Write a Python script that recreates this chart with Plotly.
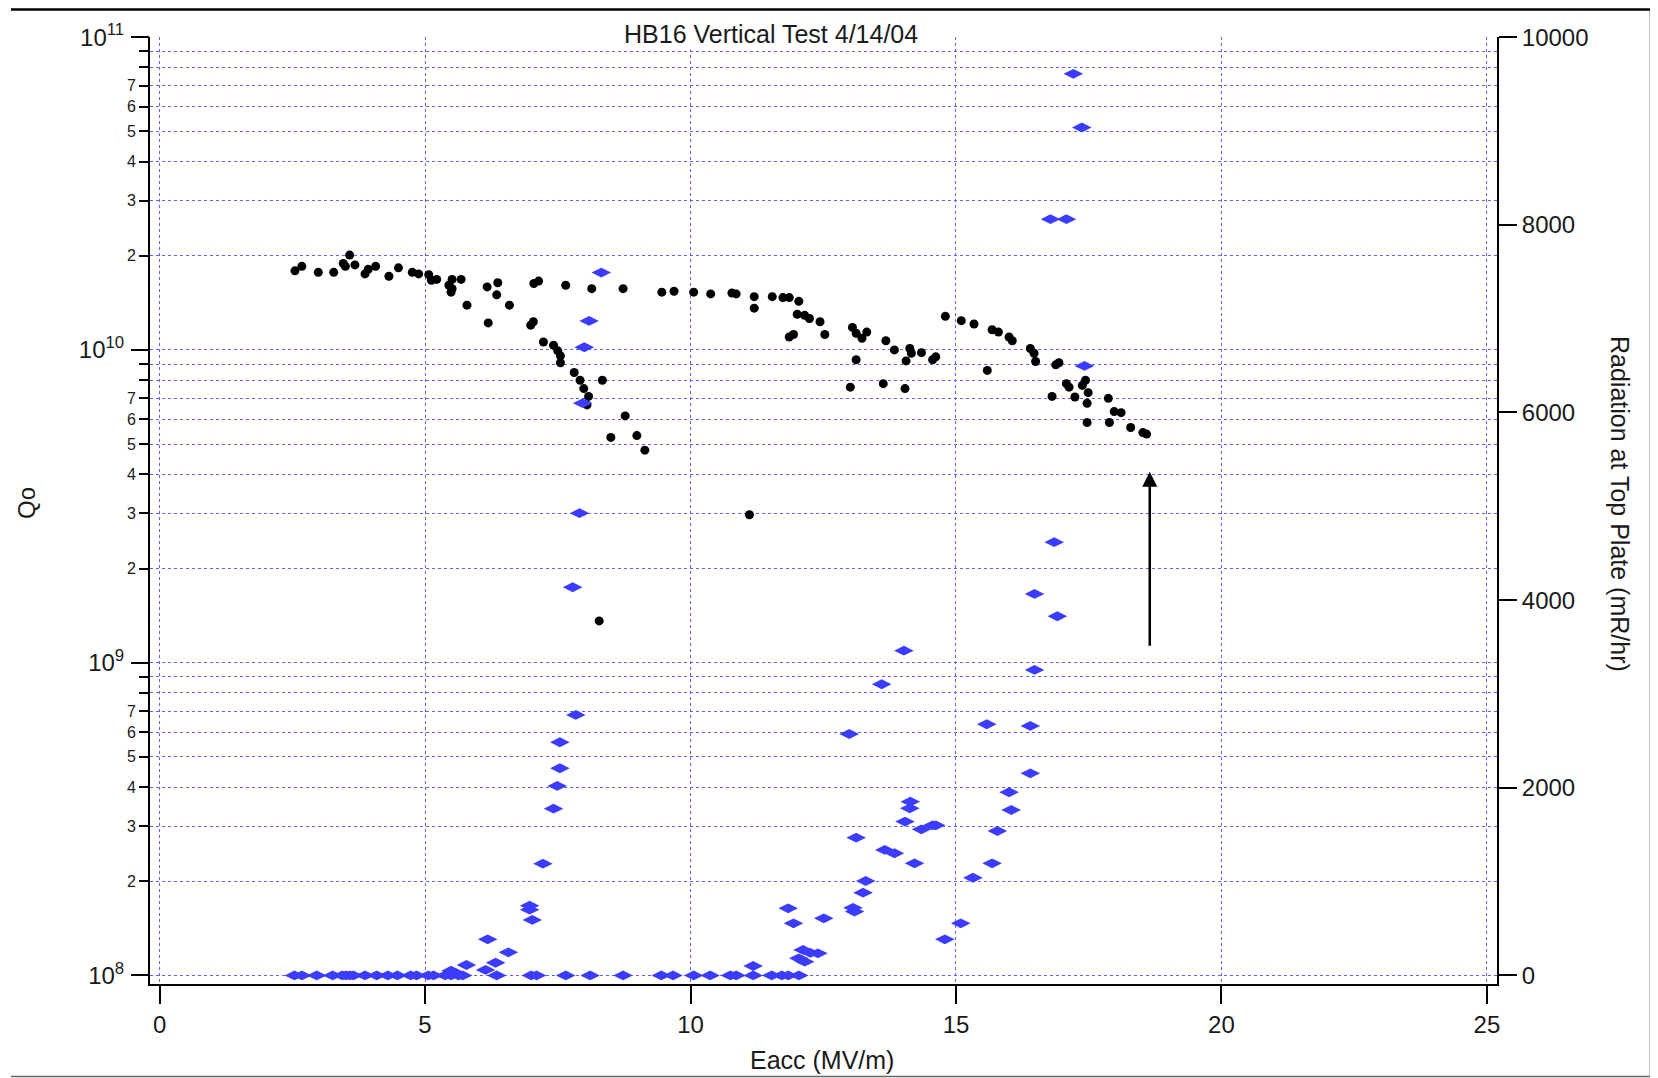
import math
import plotly.graph_objects as go

# ---------------- data ----------------
# Qo vs Eacc (black dots, left log axis)
eacc_q = [2.55, 2.68, 2.99, 3.28, 3.46, 3.50, 3.58, 3.68, 3.87, 3.93, 4.07, 4.32, 4.50, 4.76, 4.88,
          5.07, 5.12, 5.22, 5.45, 5.51, 5.49, 5.51, 5.68, 5.79, 6.17, 6.37, 6.35, 6.59, 6.19, 6.99,
          7.04, 7.05, 7.14, 7.65, 8.14, 8.73, 9.46, 9.69, 10.06, 10.38, 10.78, 10.86, 11.20, 11.20,
          11.54, 11.74, 11.86, 12.04, 12.01, 12.15, 12.24, 12.44, 12.53, 11.86, 11.94, 7.23, 7.42,
          7.50, 7.55, 7.55, 7.81, 7.92, 7.99, 8.08, 8.05, 8.34, 8.77, 8.50, 8.99, 9.14, 11.11, 8.28,
          13.05, 13.12, 13.23, 13.32, 13.68, 13.84, 14.13, 14.16, 14.35, 14.06, 14.56, 14.62, 13.12,
          13.01, 13.63, 14.04, 14.80, 15.10, 15.34, 15.68, 15.80, 16.00, 16.06, 15.59, 16.40, 16.47,
          16.50, 16.88, 16.94, 17.08, 17.13, 17.38, 17.44, 16.81, 17.24, 17.47, 17.49, 17.47, 17.87,
          17.89, 17.98, 18.11, 18.29, 18.52, 18.59]
qo = [1.79e10, 1.85e10, 1.77e10, 1.77e10, 1.89e10, 1.85e10, 2.01e10, 1.87e10, 1.75e10, 1.81e10,
      1.85e10, 1.72e10, 1.83e10, 1.77e10, 1.75e10, 1.74e10, 1.67e10, 1.68e10, 1.61e10, 1.68e10,
      1.53e10, 1.57e10, 1.68e10, 1.39e10, 1.59e10, 1.64e10, 1.50e10, 1.39e10, 1.22e10, 1.20e10,
      1.23e10, 1.63e10, 1.66e10, 1.61e10, 1.57e10, 1.57e10, 1.53e10, 1.54e10, 1.53e10, 1.51e10,
      1.52e10, 1.51e10, 1.48e10, 1.36e10, 1.48e10, 1.47e10, 1.47e10, 1.43e10, 1.30e10, 1.29e10,
      1.26e10, 1.23e10, 1.12e10, 1.10e10, 1.12e10, 1.06e10, 1.035e10, 9.93e9, 9.57e9, 9.1e9,
      8.47e9, 8.0e9, 7.52e9, 7.1e9, 6.67e9, 8.0e9, 6.15e9, 5.25e9, 5.32e9, 4.78e9, 2.97e9, 1.36e9,
      1.18e10, 1.13e10, 1.09e10, 1.14e10, 1.07e10, 1.0e10, 1.01e10, 9.76e9, 9.8e9, 9.22e9, 9.3e9,
      9.5e9, 9.3e9, 7.6e9, 7.8e9, 7.52e9, 1.28e10, 1.24e10, 1.21e10, 1.16e10, 1.14e10, 1.10e10,
      1.07e10, 8.6e9, 1.01e10, 9.76e9, 9.18e9, 8.96e9, 9.1e9, 7.8e9, 7.6e9, 7.7e9, 8.0e9, 7.1e9,
      7.07e9, 6.75e9, 7.3e9, 5.86e9, 7.0e9, 5.86e9, 6.35e9, 6.3e9, 5.65e9, 5.44e9, 5.38e9]

# Radiation vs Eacc (blue diamonds, right linear axis)
eacc_r = [2.54, 2.68, 2.96, 3.26, 3.44, 3.51, 3.58, 3.65, 3.87, 4.09, 4.30, 4.48, 4.73, 4.84, 5.06,
          5.16, 5.38, 5.49, 5.63, 5.71, 6.35, 7.00, 7.10, 7.65, 8.11, 8.73, 9.45, 9.67, 10.06, 10.37,
          10.75, 10.86, 11.18, 11.53, 11.72, 11.84, 12.04,
          5.49, 5.56, 5.78, 6.14, 6.18, 6.33, 6.57, 6.97, 6.97, 7.02, 7.22, 7.42, 7.49, 7.54, 7.54,
          7.84, 7.78, 7.91, 7.97, 8.00, 8.09, 8.32,
          11.18, 11.84, 11.94, 12.51, 12.12, 12.04, 12.15, 12.40, 12.26, 12.99, 13.06, 13.09, 13.25,
          13.30, 13.12, 13.66, 13.84, 14.22, 14.04, 14.13, 14.14, 14.35, 14.56, 14.62, 14.79, 15.09,
          15.32, 15.68, 15.78, 16.04, 16.00, 16.40, 16.40, 15.58, 13.60, 14.02, 16.48, 16.91, 16.48,
          16.85, 17.42, 16.78, 17.08, 17.37, 17.21]
rad = [0] * 37 + [
    50, 30, 111, 58, 385, 135, 246, 743, 700, 591, 1191, 1777, 2019, 2208, 2485,
    2776, 4137, 4926, 6099, 6695, 6976, 7491,
    100, 715, 555, 608, 271, 182, 146, 235, 240, 2573, 720, 680, 882,
    1006, 1468, 1337, 1302, 1195, 1639, 1781, 1852, 1557, 1600, 1600, 385, 555,
    1041, 1195, 1539, 1763, 1952, 2154, 2659, 2677, 3103, 3461, 3256, 3828, 4066,
    4617, 6496, 8060, 8060, 9037, 9609]

x_ticks = [0, 5, 10, 15, 20, 25]
decade_exps = [8, 9, 10, 11]
minor_mults = [2, 3, 4, 5, 6, 7, 8, 9]
minor_labels = ["2", "3", "4", "5", "6", "7", "", ""]
rad_ticks = [0, 2000, 4000, 6000, 8000, 10000]
rad_labels = ["0", "2000", "4000", "6000", "8000", "10000"]

ARROW_X = 18.65
ARROW_TAIL_Q = 1.12e9
ARROW_HEAD_Q = 4.08e9

TITLE = "HB16 Vertical Test 4/14/04"
XTITLE = "Eacc (MV/m)"
YTITLE = "Qo"
Y2TITLE = "Radiation at Top Plate (mR/hr)"

# ---------------- styling ----------------
FONT = "Liberation Sans, Arial, sans-serif"
TXT = "#1a1a1a"
GRID = "rgb(95,95,255)"
BLUE = "#3c3cff"

OFF = 8  # page body margin of the html page
W, H = 1650, 1070
ML, MR, MT, MB = 142, 161, 29, 94
PW, PH = W - ML - MR, H - MT - MB


def px_x(px):  # page pixel -> paper x
    return (px - OFF - ML) / PW


def px_y(py):  # page pixel -> paper y
    return (MT + PH - (py - OFF)) / PH


YLOG_RANGE = [7.9725, 11.0005]
Y2_RANGE = [(YLOG_RANGE[0] - 8) / 3 * 10000, (YLOG_RANGE[1] - 8) / 3 * 10000]

all_tickvals, all_ticktext = [], []
for e in decade_exps:
    all_tickvals.append(10 ** e)
    all_ticktext.append("")
    if e < 11:
        for m, lab in zip(minor_mults, minor_labels):
            all_tickvals.append(m * 10 ** e)
            all_ticktext.append(lab)

decade_vals = [10 ** e for e in decade_exps]
decade_text = [f"10<sup>{e}</sup>" for e in decade_exps]

fig = go.Figure()
fig.add_trace(go.Scatter(x=eacc_q, y=qo, mode="markers", yaxis="y",
                         marker=dict(symbol="circle", size=9, color="black"),
                         name="Qo", showlegend=False))
fig.add_trace(go.Scatter(x=[eacc_q[0]], y=[qo[0]], mode="markers", yaxis="y3",
                         marker=dict(size=1, color="rgba(0,0,0,0)"),
                         hoverinfo="skip", showlegend=False))
fig.add_trace(go.Scatter(x=eacc_r, y=rad, mode="markers", yaxis="y2",
                         marker=dict(symbol="diamond-wide", size=14, color=BLUE,
                                     line=dict(width=0)),
                         name="Radiation", showlegend=False))

grid_kw = dict(showgrid=True, gridcolor=GRID, gridwidth=1, griddash="3px,3px")

fig.update_layout(
    width=W, height=H,
    margin=dict(l=ML, r=MR, t=MT, b=MB, pad=0),
    paper_bgcolor="white", plot_bgcolor="white",
    font=dict(family=FONT, color=TXT),
    xaxis=dict(range=[-0.18, 25.19], tickmode="array", tickvals=x_ticks,
               ticks="outside", ticklen=18, tickwidth=1.5, tickcolor="black",
               showline=True, linecolor="black", linewidth=2, mirror=False,
               zeroline=False, tickfont=dict(size=24, color=TXT, family=FONT), **grid_kw),
    yaxis=dict(type="log", range=YLOG_RANGE, tickmode="array",
               tickvals=all_tickvals, ticktext=all_ticktext,
               ticks="outside", ticklen=9, tickwidth=1.5, tickcolor="black",
               showline=True, linecolor="black", linewidth=2,
               zeroline=False, tickfont=dict(size=16, color=TXT, family=FONT), **grid_kw),
    yaxis3=dict(type="log", range=YLOG_RANGE, overlaying="y", side="left", anchor="x",
                tickmode="array", tickvals=decade_vals, ticktext=decade_text,
                ticks="outside", ticklen=18, tickwidth=1.5, tickcolor="black",
                showline=False, showgrid=False, zeroline=False,
                ticklabelstandoff=2,
                tickfont=dict(size=24, color=TXT, family=FONT)),
    yaxis2=dict(range=Y2_RANGE, overlaying="y", side="right", anchor="x",
                tickmode="array", tickvals=rad_ticks, ticktext=rad_labels,
                ticks="outside", ticklen=18, tickwidth=1.5, tickcolor="black",
                showline=True, linecolor="black", linewidth=2,
                showgrid=False, zeroline=False,
                tickfont=dict(size=24, color=TXT, family=FONT)),
)

annotations = [
    dict(text=TITLE, xref="paper", yref="paper", x=px_x(771), y=px_y(34),
         xanchor="center", yanchor="middle", showarrow=False, bgcolor="white",
         font=dict(size=25, color=TXT, family=FONT)),
    dict(text=XTITLE, xref="paper", yref="paper", x=px_x(822), y=px_y(1060),
         xanchor="center", yanchor="middle", showarrow=False,
         font=dict(size=25, color=TXT, family=FONT)),
    dict(text=YTITLE, xref="paper", yref="paper", x=px_x(26), y=px_y(503),
         xanchor="center", yanchor="middle", showarrow=False, textangle=-90,
         font=dict(size=24, color=TXT, family=FONT)),
    dict(text=Y2TITLE, xref="paper", yref="paper", x=px_x(1620), y=px_y(504),
         xanchor="center", yanchor="middle", showarrow=False, textangle=90,
         font=dict(size=25, color=TXT, family=FONT)),
    dict(text="", x=ARROW_X, y=math.log10(ARROW_HEAD_Q), xref="x", yref="y",
         ax=ARROW_X, ay=math.log10(ARROW_TAIL_Q), axref="x", ayref="y",
         showarrow=True, arrowhead=2, arrowsize=1.2, arrowwidth=2.5, arrowcolor="black"),
]
fig.update_layout(annotations=annotations)

# window frame lines around the picture
shapes = [
    dict(type="line", xref="paper", yref="paper", x0=px_x(11), x1=px_x(1652),
         y0=px_y(9.5), y1=px_y(9.5), line=dict(color="black", width=2.5)),
    dict(type="line", xref="paper", yref="paper", x0=px_x(1651), x1=px_x(1651),
         y0=px_y(9.5), y1=px_y(1077), line=dict(color="black", width=2.5)),
    dict(type="line", xref="paper", yref="paper", x0=px_x(11), x1=px_x(1652),
         y0=px_y(1076.5), y1=px_y(1076.5), line=dict(color="#666666", width=1.5)),
]
fig.update_layout(shapes=shapes)

fig.write_html("out.html")
